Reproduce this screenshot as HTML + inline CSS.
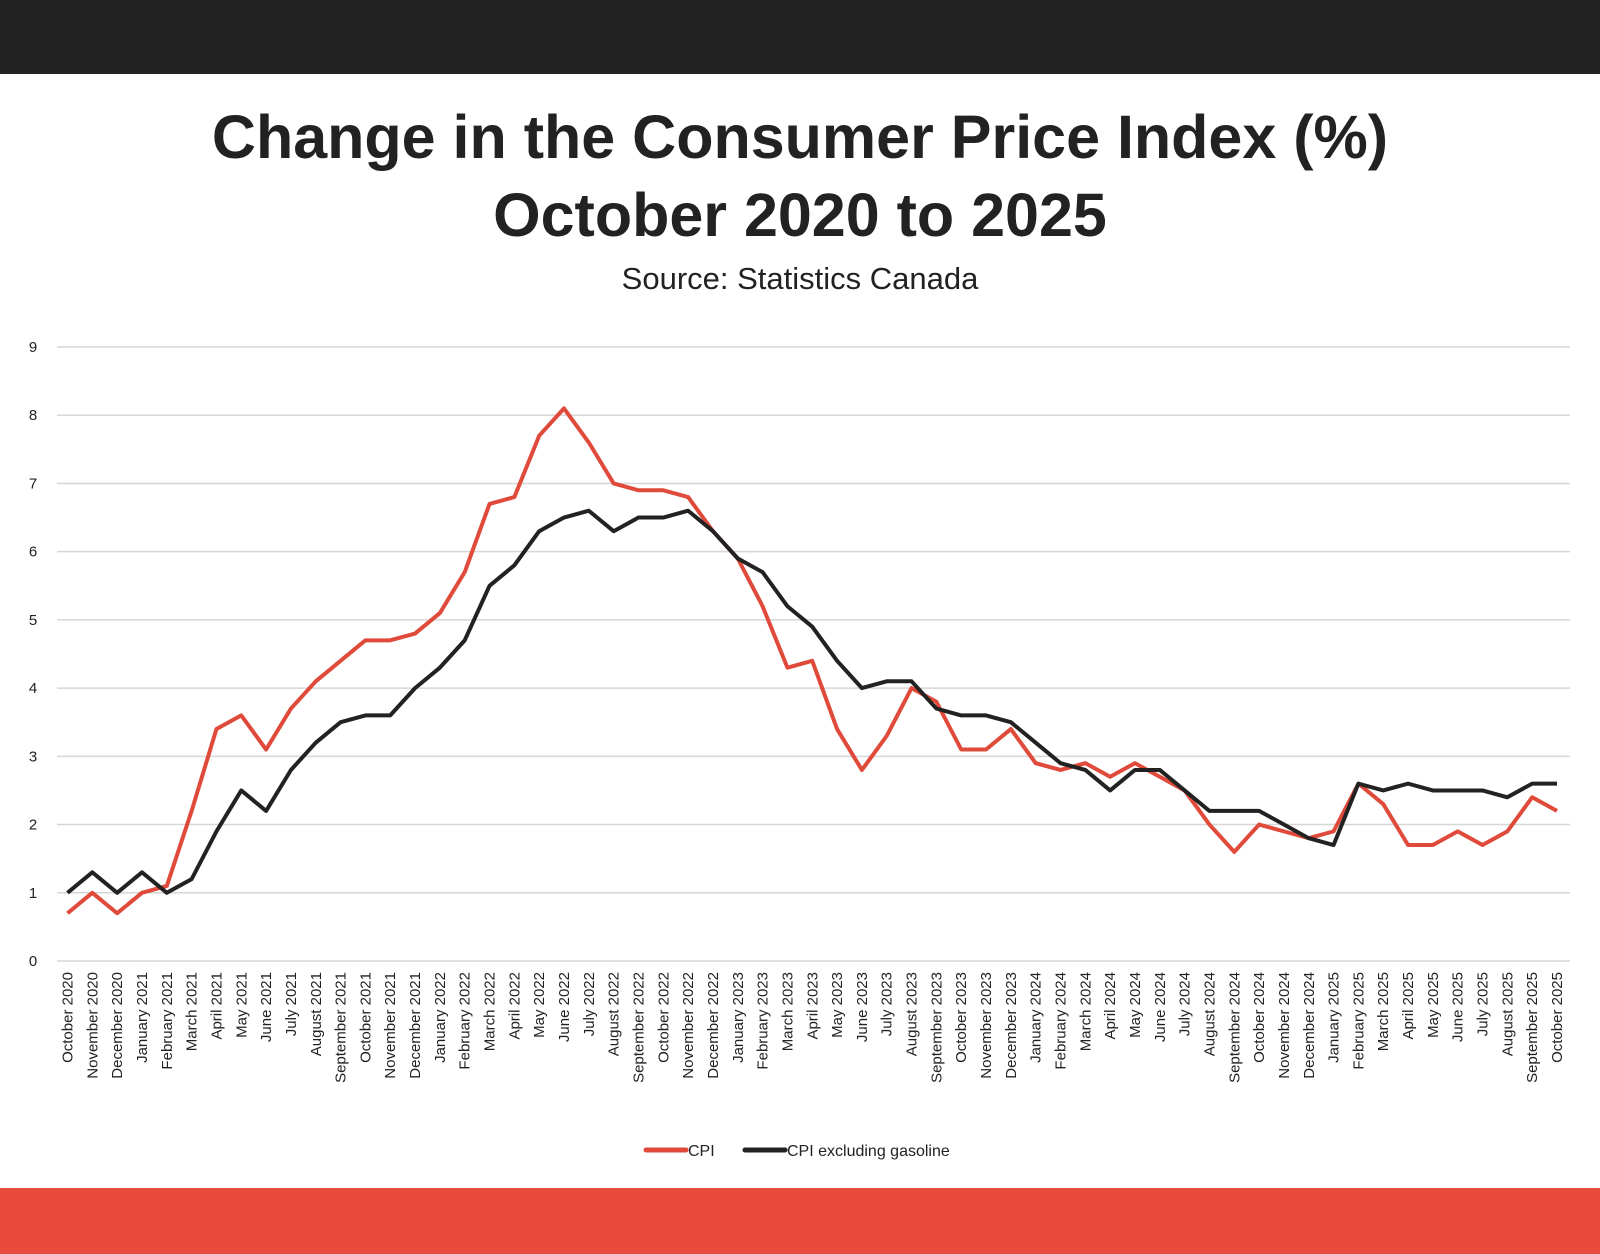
<!DOCTYPE html>
<html><head><meta charset="utf-8"><style>
body{margin:0;width:1600px;height:1254px;background:#fff;overflow:hidden;font-family:"Liberation Sans",sans-serif;position:relative}
#top{position:absolute;left:0;top:0;width:1600px;height:74px;background:#222}
#bot{position:absolute;left:0;top:1188px;width:1600px;height:66px;background:#e84b3c}
.t{position:absolute;left:0;width:1600px;text-align:center;color:#222}
</style></head><body>
<div id="top"></div>
<div class="t" style="top:98px;font-size:61px;font-weight:bold;line-height:78px">Change in the Consumer Price Index (%)<br>October 2020 to 2025</div>
<div class="t" style="top:261px;font-size:31px">Source: Statistics Canada</div>
<svg id="chart" width="1600" height="1254" style="position:absolute;left:0;top:0"></svg>
<div id="bot"></div>
<script>
const months=["October 2020","November 2020","December 2020","January 2021","February 2021","March 2021","April 2021","May 2021","June 2021","July 2021","August 2021","September 2021","October 2021","November 2021","December 2021","January 2022","February 2022","March 2022","April 2022","May 2022","June 2022","July 2022","August 2022","September 2022","October 2022","November 2022","December 2022","January 2023","February 2023","March 2023","April 2023","May 2023","June 2023","July 2023","August 2023","September 2023","October 2023","November 2023","December 2023","January 2024","February 2024","March 2024","April 2024","May 2024","June 2024","July 2024","August 2024","September 2024","October 2024","November 2024","December 2024","January 2025","February 2025","March 2025","April 2025","May 2025","June 2025","July 2025","August 2025","September 2025","October 2025"];
const cpi=[0.7,1.0,0.7,1.0,1.1,2.2,3.4,3.6,3.1,3.7,4.1,4.4,4.7,4.7,4.8,5.1,5.7,6.7,6.8,7.7,8.1,7.6,7.0,6.9,6.9,6.8,6.3,5.9,5.2,4.3,4.4,3.4,2.8,3.3,4.0,3.8,3.1,3.1,3.4,2.9,2.8,2.9,2.7,2.9,2.7,2.5,2.0,1.6,2.0,1.9,1.8,1.9,2.6,2.3,1.7,1.7,1.9,1.7,1.9,2.4,2.2];
const cpiExGas=[1.0,1.3,1.0,1.3,1.0,1.2,1.9,2.5,2.2,2.8,3.2,3.5,3.6,3.6,4.0,4.3,4.7,5.5,5.8,6.3,6.5,6.6,6.3,6.5,6.5,6.6,6.3,5.9,5.7,5.2,4.9,4.4,4.0,4.1,4.1,3.7,3.6,3.6,3.5,3.2,2.9,2.8,2.5,2.8,2.8,2.5,2.2,2.2,2.2,2.0,1.8,1.7,2.6,2.5,2.6,2.5,2.5,2.5,2.4,2.6,2.6];
const yTicks=[0,1,2,3,4,5,6,7,8,9];
const svg=document.getElementById('chart');const NS='http://www.w3.org/2000/svg';
const X0=67.5,X1=1557,Y0=961,Y9=347;
const x=i=>X0+(X1-X0)*i/(months.length-1);
const y=v=>Y0+(Y9-Y0)*v/9;
function mk(t,a){const e=document.createElementNS(NS,t);for(const k in a)e.setAttribute(k,a[k]);svg.appendChild(e);return e;}
yTicks.forEach(v=>{
 const g=mk('line',{x1:57,x2:1570,y1:y(v),y2:y(v),stroke:'#d6d6d6','stroke-width':1.5});
 
 
 const t=mk('text',{x:33,y:y(v)+5,'text-anchor':'middle','font-size':15,fill:'#222'});
 t.textContent=v;
 
 
});
months.forEach((m,i)=>{
 const t=mk('text',{transform:`translate(${x(i)+5},972) rotate(-90)`,'text-anchor':'end','font-size':15,fill:'#222'});
 t.textContent=m;
 
 
});
function line(d,c,n){
 const p=mk('polyline',{points:d.map((v,i)=>x(i)+','+y(v)).join(' '),fill:'none',stroke:c,'stroke-width':4,'stroke-linejoin':'round'});
 
 
}
line(cpi,'#e04a3a','cpi-line');
line(cpiExGas,'#222','cpi-ex-gasoline-line');
function leg(x1,x2,c,txt,n){
 const l=mk('line',{x1:x1,x2:x2,y1:1150,y2:1150,stroke:c,'stroke-width':5,'stroke-linecap':'round'});
 
 
 const t=mk('text',{x:x2+2,y:1156,'font-size':16,fill:'#222'});
 t.textContent=txt;
 
 
}
leg(646,686,'#e04a3a','CPI','legend-cpi');
leg(745,785,'#222','CPI excluding gasoline','legend-cpi-ex-gasoline');
</script>
</body></html>
